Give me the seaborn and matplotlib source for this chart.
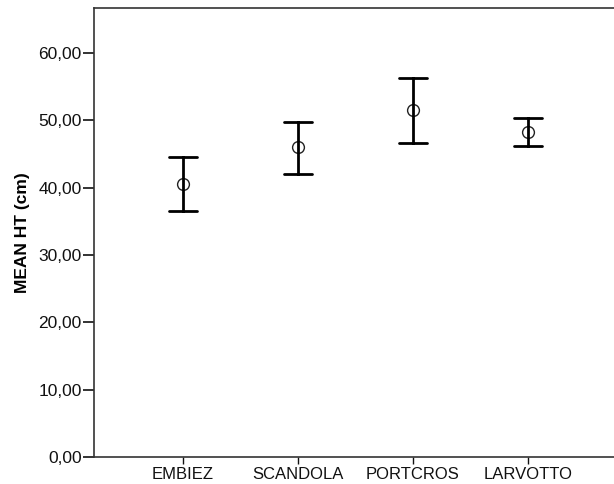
import pandas as pd
import seaborn as sns
import matplotlib.pyplot as plt

# values
sites = ["EMBIEZ", "SCANDOLA", "PORTCROS", "LARVOTTO"]
mean_ht = [40.6, 46.0, 51.5, 48.3]
lower_ht = [36.5, 42.0, 46.6, 46.2]
upper_ht = [44.6, 49.8, 56.3, 50.3]

# long table: lower / mean / upper per site -> median gives the mean, min/max give the bar
df = pd.DataFrame({
    "site": sites * 3,
    "ht": lower_ht + mean_ht + upper_ht,
})

sns.set_style("ticks")
plt.rcParams['font.family'] = ['Liberation Sans', 'DejaVu Sans']

fig = plt.figure(figsize=(6.14, 4.84), dpi=100)
ax = fig.add_axes([94 / 614, 27 / 484, (617 - 94) / 614, (476 - 27) / 484])

sns.pointplot(data=df, x="site", y="ht", order=sites,
              estimator="median", errorbar=lambda v: (v.min(), v.max()),
              linestyle="none", markers="o", color="black",
              capsize=0.25, err_kws={"linewidth": 2},
              markerfacecolor="none", markeredgecolor="#222222",
              markeredgewidth=1.0, markersize=8.5, ax=ax)

ax.set_xlim(-0.775, 3.775)
ax.set_ylim(0, 66.7)
ax.set_yticks([0, 10, 20, 30, 40, 50, 60])
ax.set_yticklabels([f"{t:.2f}".replace(".", ",") for t in [0, 10, 20, 30, 40, 50, 60]])
ax.set_xlabel("")
ax.set_ylabel("MEAN HT (cm)", fontsize=12.5, fontweight="bold", labelpad=6, color="black")
ax.tick_params(axis="y", length=8, width=1.2, pad=1, labelsize=12.5, colors="#111111")
ax.tick_params(axis="x", length=5, width=1, pad=2, labelsize=12, colors="#111111")
for s in ax.spines.values():
    s.set_color("#333333")
    s.set_linewidth(1.2)
ax.spines["right"].set_visible(False)

fig.savefig("out.png", dpi=100)
